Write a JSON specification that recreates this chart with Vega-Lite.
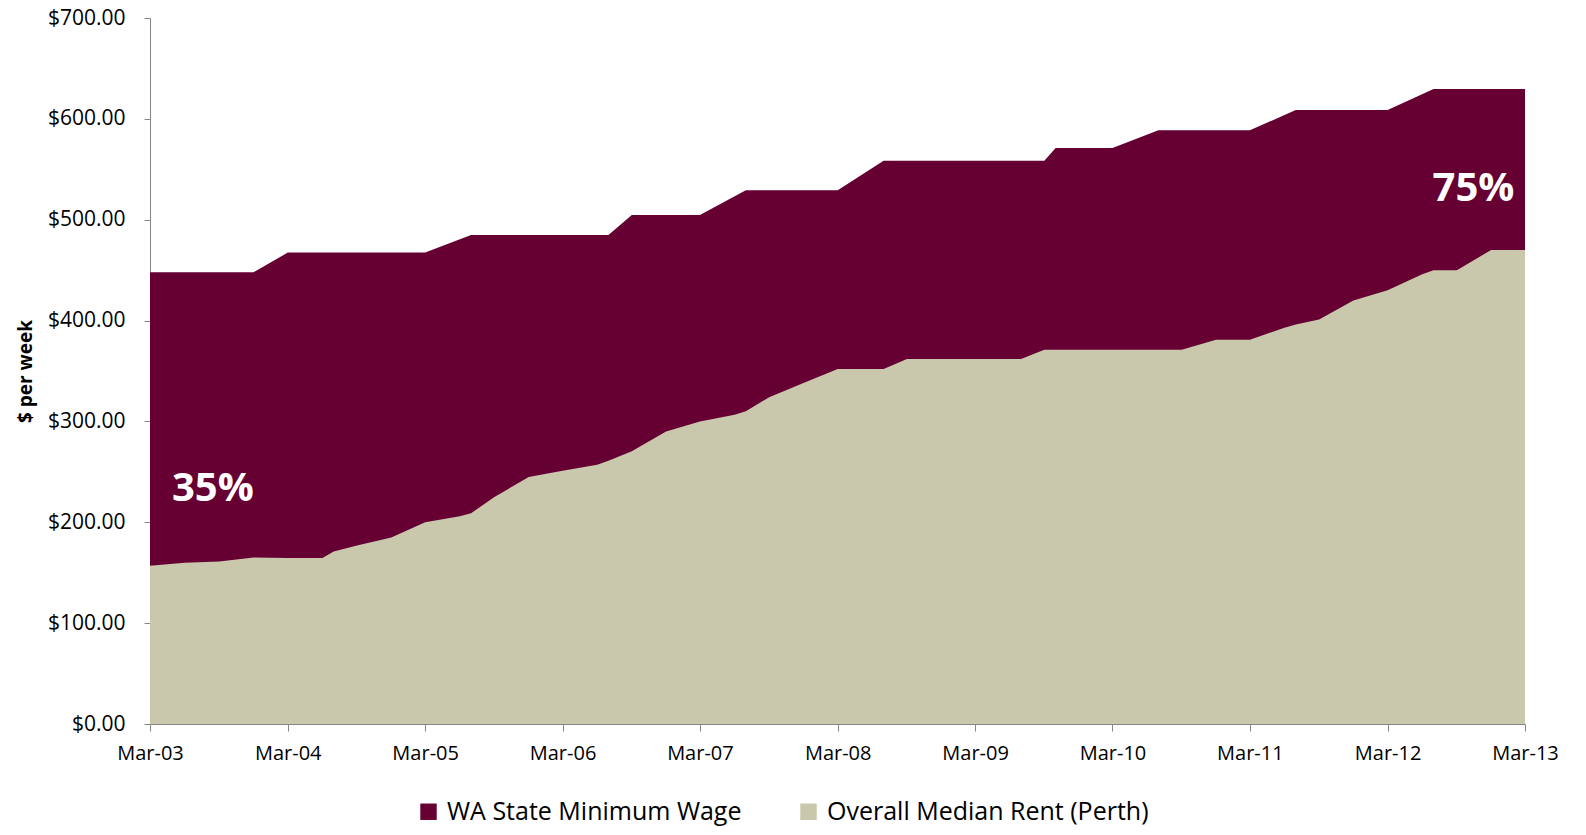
{
  "$schema": "https://vega.github.io/schema/vega-lite/v6.json",
  "autosize": {"type": "none"},
  "padding": {"left": 150, "top": 18, "right": 61, "bottom": 111},
  "width": 1375,
  "height": 706,
  "background": "white",
  "data": {
    "values": [
      {"series": "WA State Minimum Wage", "date": "2003/03/01", "value": 448},
      {"series": "WA State Minimum Wage", "date": "2003/12/01", "value": 448},
      {"series": "WA State Minimum Wage", "date": "2004/03/01", "value": 467.4},
      {"series": "WA State Minimum Wage", "date": "2005/03/01", "value": 467.4},
      {"series": "WA State Minimum Wage", "date": "2005/07/01", "value": 484.8},
      {"series": "WA State Minimum Wage", "date": "2006/07/01", "value": 484.8},
      {"series": "WA State Minimum Wage", "date": "2006/09/01", "value": 504.7},
      {"series": "WA State Minimum Wage", "date": "2007/03/01", "value": 504.7},
      {"series": "WA State Minimum Wage", "date": "2007/07/01", "value": 529.2},
      {"series": "WA State Minimum Wage", "date": "2008/03/01", "value": 529.2},
      {"series": "WA State Minimum Wage", "date": "2008/07/01", "value": 558.5},
      {"series": "WA State Minimum Wage", "date": "2009/09/01", "value": 558.5},
      {"series": "WA State Minimum Wage", "date": "2009/10/01", "value": 571},
      {"series": "WA State Minimum Wage", "date": "2010/03/01", "value": 571},
      {"series": "WA State Minimum Wage", "date": "2010/07/01", "value": 588.6},
      {"series": "WA State Minimum Wage", "date": "2011/03/01", "value": 588.6},
      {"series": "WA State Minimum Wage", "date": "2011/07/01", "value": 608.8},
      {"series": "WA State Minimum Wage", "date": "2012/03/01", "value": 608.8},
      {"series": "WA State Minimum Wage", "date": "2012/07/01", "value": 629.5},
      {"series": "WA State Minimum Wage", "date": "2013/03/01", "value": 629.5},
      {"series": "Overall Median Rent (Perth)", "date": "2003/03/01", "value": 157},
      {"series": "Overall Median Rent (Perth)", "date": "2003/06/01", "value": 160},
      {"series": "Overall Median Rent (Perth)", "date": "2003/09/01", "value": 161},
      {"series": "Overall Median Rent (Perth)", "date": "2003/12/01", "value": 165},
      {"series": "Overall Median Rent (Perth)", "date": "2004/03/01", "value": 164.5},
      {"series": "Overall Median Rent (Perth)", "date": "2004/06/01", "value": 164.5},
      {"series": "Overall Median Rent (Perth)", "date": "2004/07/01", "value": 171},
      {"series": "Overall Median Rent (Perth)", "date": "2004/09/01", "value": 177},
      {"series": "Overall Median Rent (Perth)", "date": "2004/12/01", "value": 185},
      {"series": "Overall Median Rent (Perth)", "date": "2005/03/01", "value": 200},
      {"series": "Overall Median Rent (Perth)", "date": "2005/06/01", "value": 206},
      {"series": "Overall Median Rent (Perth)", "date": "2005/07/01", "value": 209},
      {"series": "Overall Median Rent (Perth)", "date": "2005/09/01", "value": 225},
      {"series": "Overall Median Rent (Perth)", "date": "2005/12/01", "value": 245},
      {"series": "Overall Median Rent (Perth)", "date": "2006/03/01", "value": 251},
      {"series": "Overall Median Rent (Perth)", "date": "2006/06/01", "value": 257},
      {"series": "Overall Median Rent (Perth)", "date": "2006/07/01", "value": 261},
      {"series": "Overall Median Rent (Perth)", "date": "2006/09/01", "value": 270.5},
      {"series": "Overall Median Rent (Perth)", "date": "2006/12/01", "value": 290},
      {"series": "Overall Median Rent (Perth)", "date": "2007/03/01", "value": 300},
      {"series": "Overall Median Rent (Perth)", "date": "2007/06/01", "value": 306.5},
      {"series": "Overall Median Rent (Perth)", "date": "2007/07/01", "value": 310},
      {"series": "Overall Median Rent (Perth)", "date": "2007/09/01", "value": 324},
      {"series": "Overall Median Rent (Perth)", "date": "2007/12/01", "value": 338},
      {"series": "Overall Median Rent (Perth)", "date": "2008/03/01", "value": 352},
      {"series": "Overall Median Rent (Perth)", "date": "2008/06/01", "value": 352},
      {"series": "Overall Median Rent (Perth)", "date": "2008/07/01", "value": 352},
      {"series": "Overall Median Rent (Perth)", "date": "2008/09/01", "value": 362},
      {"series": "Overall Median Rent (Perth)", "date": "2008/12/01", "value": 362},
      {"series": "Overall Median Rent (Perth)", "date": "2009/03/01", "value": 362},
      {"series": "Overall Median Rent (Perth)", "date": "2009/06/01", "value": 362},
      {"series": "Overall Median Rent (Perth)", "date": "2009/07/01", "value": 362},
      {"series": "Overall Median Rent (Perth)", "date": "2009/09/01", "value": 371},
      {"series": "Overall Median Rent (Perth)", "date": "2009/12/01", "value": 371},
      {"series": "Overall Median Rent (Perth)", "date": "2010/03/01", "value": 371},
      {"series": "Overall Median Rent (Perth)", "date": "2010/06/01", "value": 371},
      {"series": "Overall Median Rent (Perth)", "date": "2010/07/01", "value": 371},
      {"series": "Overall Median Rent (Perth)", "date": "2010/09/01", "value": 371},
      {"series": "Overall Median Rent (Perth)", "date": "2010/12/01", "value": 381},
      {"series": "Overall Median Rent (Perth)", "date": "2011/03/01", "value": 381},
      {"series": "Overall Median Rent (Perth)", "date": "2011/06/01", "value": 393},
      {"series": "Overall Median Rent (Perth)", "date": "2011/07/01", "value": 396},
      {"series": "Overall Median Rent (Perth)", "date": "2011/09/01", "value": 401},
      {"series": "Overall Median Rent (Perth)", "date": "2011/12/01", "value": 420},
      {"series": "Overall Median Rent (Perth)", "date": "2012/03/01", "value": 430},
      {"series": "Overall Median Rent (Perth)", "date": "2012/06/01", "value": 446},
      {"series": "Overall Median Rent (Perth)", "date": "2012/07/01", "value": 450},
      {"series": "Overall Median Rent (Perth)", "date": "2012/09/01", "value": 450},
      {"series": "Overall Median Rent (Perth)", "date": "2012/12/01", "value": 470},
      {"series": "Overall Median Rent (Perth)", "date": "2013/03/01", "value": 470}
    ]
  },
  "encoding": {
    "x": {
      "field": "date",
      "type": "temporal",
      "scale": {
        "domain": [{"year": 2003, "month": 3, "date": 1}, {"year": 2013, "month": 3, "date": 1}],
        "nice": false
      },
      "axis": {
        "title": null,
        "format": "%b-%y",
        "values": [
          {"year": 2003, "month": 3, "date": 1},
          {"year": 2004, "month": 3, "date": 1},
          {"year": 2005, "month": 3, "date": 1},
          {"year": 2006, "month": 3, "date": 1},
          {"year": 2007, "month": 3, "date": 1},
          {"year": 2008, "month": 3, "date": 1},
          {"year": 2009, "month": 3, "date": 1},
          {"year": 2010, "month": 3, "date": 1},
          {"year": 2011, "month": 3, "date": 1},
          {"year": 2012, "month": 3, "date": 1},
          {"year": 2013, "month": 3, "date": 1}
        ],
        "grid": false,
        "tickSize": 7,
        "labelPadding": 12,
        "labelFontSize": 20,
        "labelFlush": false,
        "labelOverlap": false
      }
    },
    "y": {
      "field": "value",
      "type": "quantitative",
      "scale": {"domain": [0, 700], "nice": false},
      "axis": {
        "title": "$ per week",
        "format": "$,.2f",
        "values": [0, 100, 200, 300, 400, 500, 600, 700],
        "grid": false,
        "tickSize": 6,
        "labelPadding": 19,
        "labelFontSize": 21,
        "titleFontSize": 19,
        "titleFontWeight": "bold",
        "titlePadding": 12
      }
    },
    "color": {
      "field": "series",
      "type": "nominal",
      "scale": {
        "domain": ["WA State Minimum Wage", "Overall Median Rent (Perth)"],
        "range": ["#660033", "#c9c8ad"]
      },
      "legend": {
        "title": null,
        "orient": "none",
        "legendX": 266,
        "legendY": 781,
        "direction": "horizontal",
        "symbolType": "square",
        "symbolSize": 270,
        "symbolStrokeWidth": 0,
        "labelFontSize": 25,
        "labelLimit": 0,
        "labelColor": "#000000",
        "labelOffset": 6,
        "columnPadding": 54
      }
    }
  },
  "layer": [
    {
      "transform": [{"filter": "datum.series === 'WA State Minimum Wage'"}],
      "mark": {"type": "area", "opacity": 1}
    },
    {
      "transform": [{"filter": "datum.series === 'Overall Median Rent (Perth)'"}],
      "mark": {"type": "area", "opacity": 1}
    },
    {
      "data": {
        "values": [
          {"date": "2003/08/15", "value": 233, "label": "35%"},
          {"date": "2012/10/15", "value": 530, "label": "75%"}
        ]
      },
      "mark": {
        "type": "text",
        "color": "white",
        "fontSize": 40,
        "fontWeight": "bold",
        "align": "center",
        "baseline": "middle"
      },
      "encoding": {
        "text": {"field": "label"},
        "color": null
      }
    }
  ],
  "config": {
    "font": "Open Sans",
    "view": {"stroke": null},
    "axis": {
      "domainColor": "#868686",
      "tickColor": "#868686",
      "labelColor": "#000000",
      "titleColor": "#000000",
      "labelFont": "Open Sans",
      "titleFont": "Open Sans"
    },
    "legend": {"labelFont": "Open Sans"},
    "text": {"font": "Open Sans"}
  }
}
